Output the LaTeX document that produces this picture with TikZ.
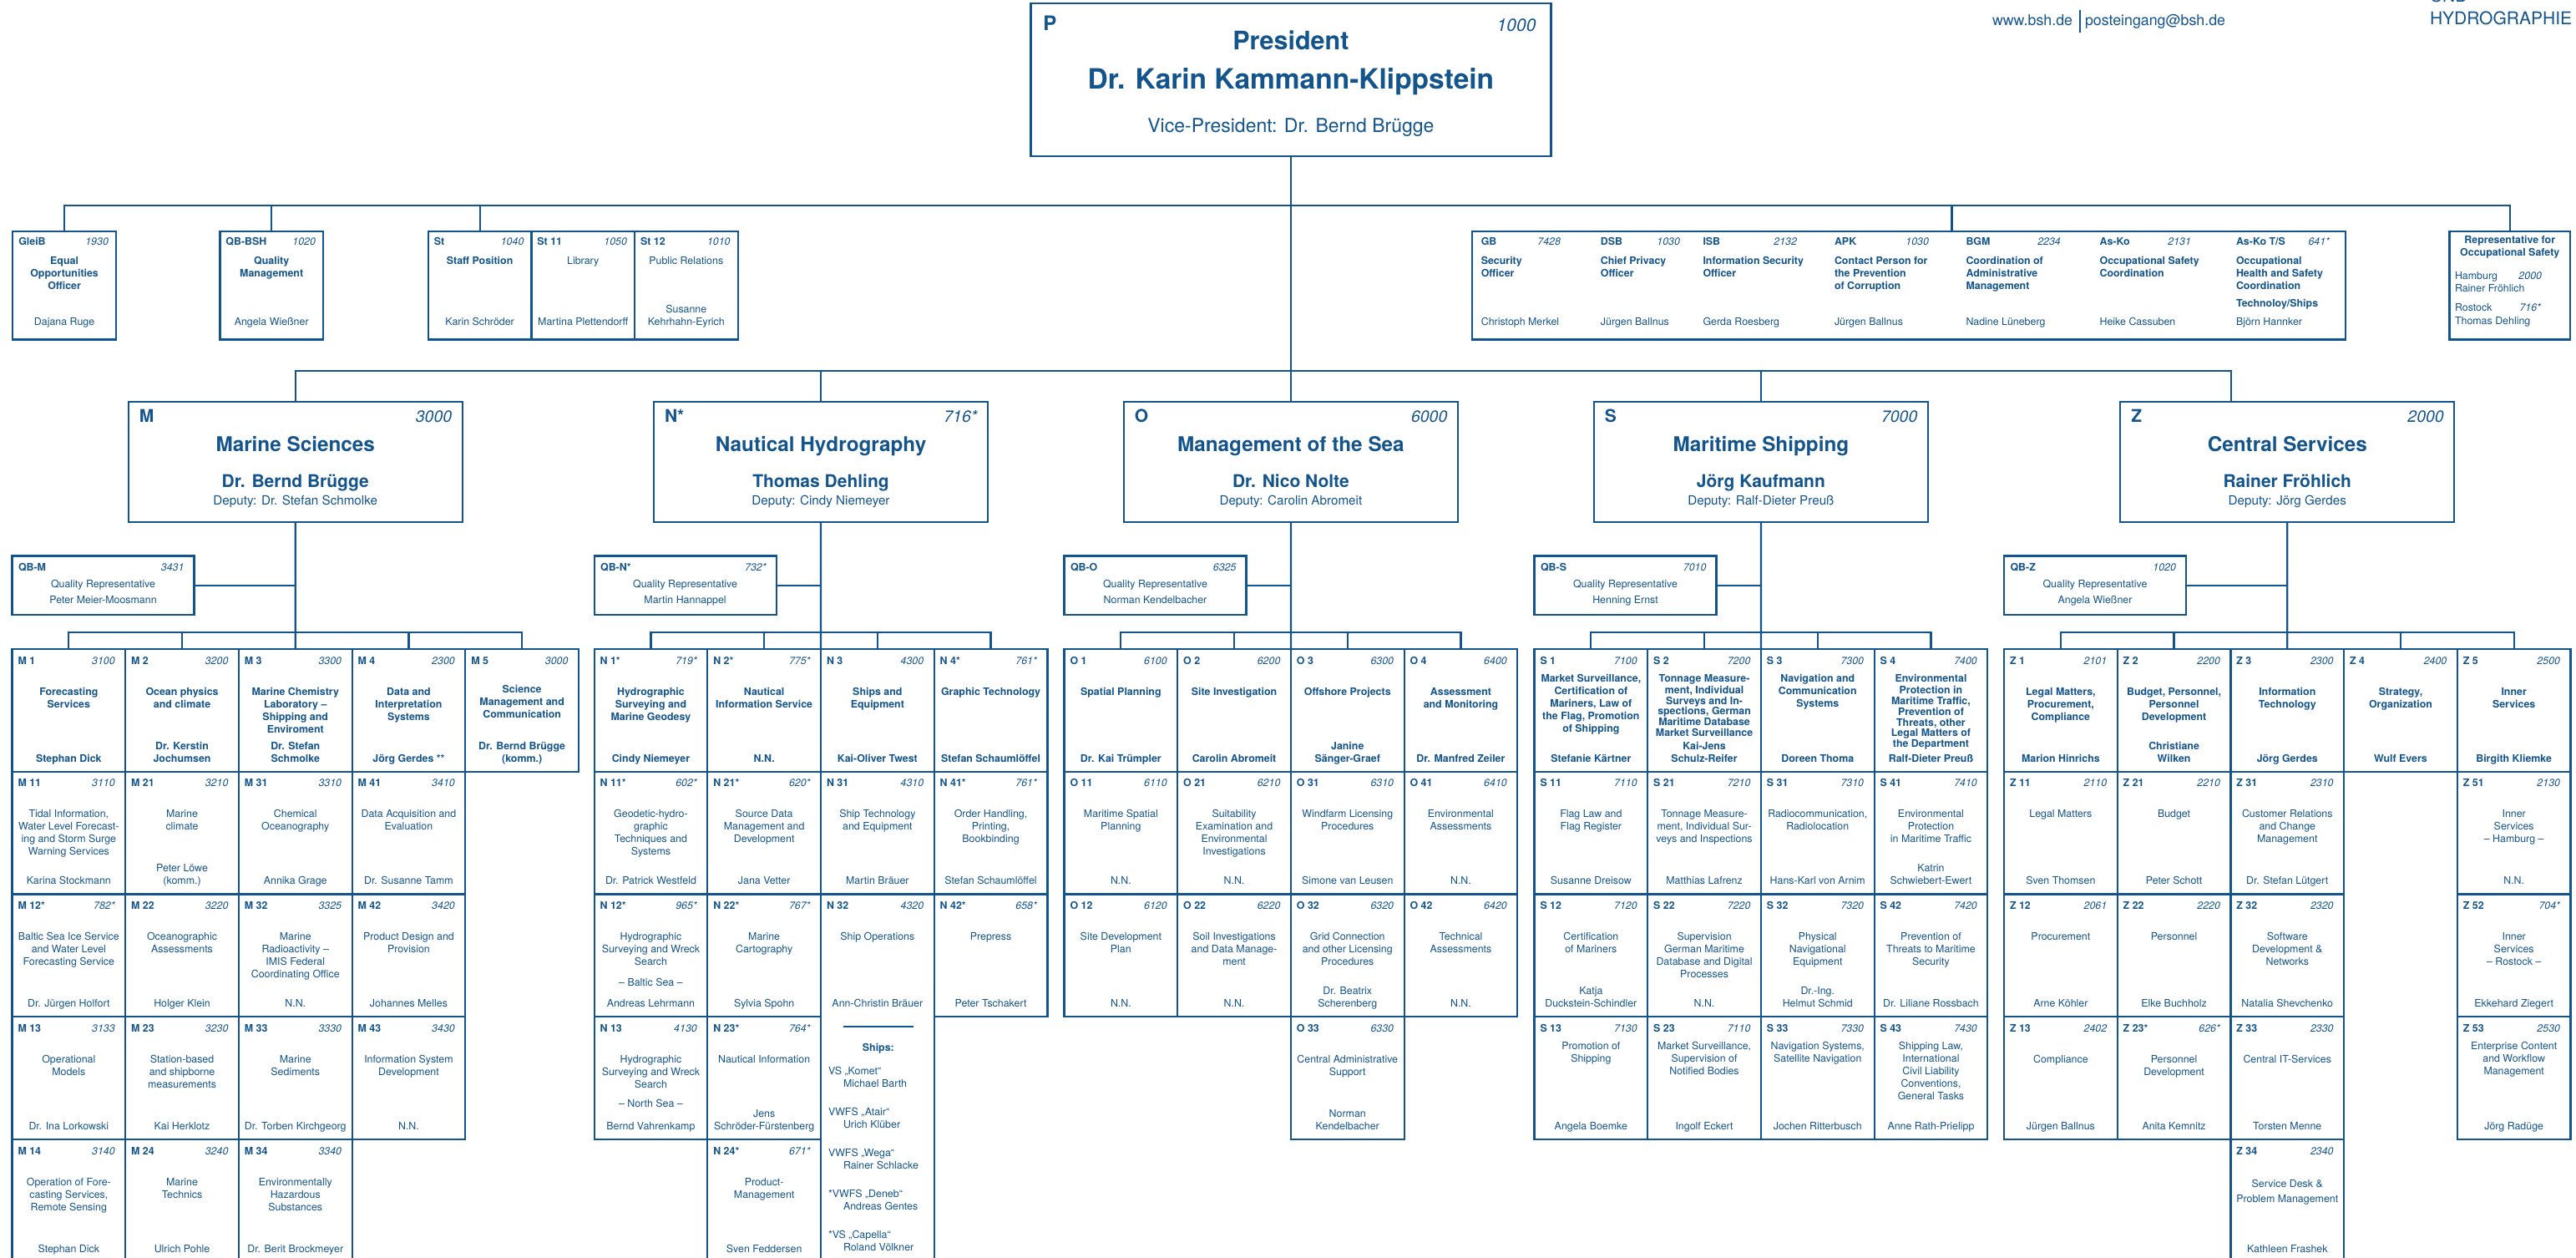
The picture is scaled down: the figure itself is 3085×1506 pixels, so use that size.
\documentclass[tikz,border=0pt]{standalone}
\usepackage{fontspec}
\setmainfont{TeX Gyre Heros}
\definecolor{bsh}{RGB}{20,84,140}
\newcommand\ufont{\fontsize{12.4}{15}\selectfont}
\def\uH{146.75}
\tikzset{
 bx/.style={draw=bsh,line width=2.2pt,inner sep=0pt,outer sep=0pt},
 tx/.style={text=bsh,inner sep=0pt,outer sep=0pt},
 ln/.style={draw=bsh,line width=2.2pt},
}
\newcommand\mkunit[9]{%
  \node[bx,anchor=north west,minimum width=135.7pt,minimum height=\uH pt] (#1) at (#2,#3) {};
  \path (#1.north west) ++(7,18) node[tx,anchor=base west,font=\ufont\bfseries] (#1-c) {#4};
  \path (#1.north east) ++(-12.5,18) node[tx,anchor=base east,font=\ufont\itshape] (#1-n) {#5};
  \path (#1.north) ++(0,44.5) node[tx,anchor=north,align=center,font=\ufont#6,#9] (#1-t) {\strut#7};
  \path (#1.north) ++(0,139.5) node[tx,anchor=south,align=center,font=\ufont#6] (#1-p) {#8\strut};
}
\newcommand\mkdept[7]{%
  \node[bx,anchor=north,minimum width=400pt,minimum height=144pt] (#1) at (#2,481) {};
  \path (#1.north west) ++(13,24) node[tx,anchor=base west,font=\fontsize{21}{25}\selectfont\bfseries] (#1-l) {#3};
  \path (#1.north east) ++(-12.5,24) node[tx,anchor=base east,font=\fontsize{19.5}{23}\selectfont\itshape] (#1-n) {#4};
  \path (#1.north) ++(0,59) node[tx,anchor=base,font=\fontsize{24.3}{29}\selectfont\bfseries] (#1-t) {#5};
  \path (#1.north) ++(0,102) node[tx,anchor=base,font=\fontsize{21}{25}\selectfont\bfseries] (#1-h) {#6};
  \path (#1.north) ++(0,123.5) node[tx,anchor=base,font=\fontsize{15.2}{18}\selectfont] (#1-d) {#7};
}
\newcommand\mkstaff[7]{%
  \node[bx,anchor=north west,minimum width=123.6pt,minimum height=129.5pt] (#1) at (#2,277) {};
  \path (#1.north west) ++(7,16) node[tx,anchor=base west,font=\ufont\bfseries] (#1-c) {#3};
  \path (#1.north east) ++(-9,16) node[tx,anchor=base east,font=\ufont\itshape] (#1-n) {#4};
  \path (#1.north) ++(0,28.5) node[tx,anchor=north,align=center,font=\ufont#5] (#1-t) {\strut#6};
  \path (#1.north) ++(0,116.5) node[tx,anchor=south,align=center,font=\ufont] (#1-p) {#7\strut};
}
\newcommand\mkitem[7]{%
  \node[tx,anchor=base west,font=\ufont\bfseries] (#1-c) at (#2,293) {#4};
  \node[tx,anchor=base east,font=\ufont\itshape] (#1-n) at (#3,293) {#5};
  \node[tx,anchor=north west,align=left,font=\ufont\bfseries] (#1-t) at (#2,305.5) {\strut#6};
  \node[tx,anchor=base west,font=\ufont] (#1-p) at (#2,389) {#7};
}
\newcommand\mkqb[5]{%
  \node[bx,anchor=north west,minimum width=218pt,minimum height=70.5pt] (#1) at (#2,665.5) {};
  \path (#1.north west) ++(7.5,18) node[tx,anchor=base west,font=\ufont\bfseries] (#1-c) {#3};
  \path (#1.north east) ++(-12,18) node[tx,anchor=base east,font=\ufont\itshape] (#1-n) {#4};
  \path (#1.north) ++(0,38.3) node[tx,anchor=base,font=\ufont] (#1-t) {Quality Representative};
  \path (#1.north) ++(0,56.5) node[tx,anchor=base,font=\ufont] (#1-p) {#5};
}
\begin{document}
\begin{tikzpicture}[x=1pt,y=-1pt]
\useasboundingbox (0,0) rectangle (3085,1506);
\fill[white] (0,0) rectangle (3085,1506);

% ---------- header ----------
\node[tx,anchor=base west,font=\fontsize{17.8}{20}\selectfont] (www) at (2386,30.5) {www.bsh.de};
\node[tx,anchor=base west,font=\fontsize{17.8}{20}\selectfont] (mail) at (2497,30.5) {posteingang@bsh.de};
\coordinate (sepT) at (2491,12); \coordinate (sepB) at (2491,39);
\draw[bsh,line width=1.2pt] (sepT) -- (sepB);
\node[tx,anchor=base west,font=\fontsize{21}{24}\selectfont] (und) at (2910,3) {UND};
\node[tx,anchor=base west,font=\fontsize{21}{24}\selectfont] (hyd) at (2910,29.5) {HYDROGRAPHIE};

% ---------- president ----------
\node[bx,anchor=north west,minimum width=623pt,minimum height=183pt] (pres) at (1234.4,4) {};
\path (pres.north west) ++(15,33) node[tx,anchor=base west,font=\fontsize{24}{28}\selectfont\bfseries] (pres-l) {P};
\path (pres.north east) ++(-18,33.5) node[tx,anchor=base east,font=\fontsize{21}{25}\selectfont\itshape] (pres-n) {1000};
\path (pres.north) ++(0,55.5) node[tx,anchor=base,font=\fontsize{30.5}{36}\selectfont\bfseries] (pres-t) {President};
\path (pres.north) ++(0,103) node[tx,anchor=base,font=\fontsize{33.5}{38}\selectfont\bfseries] (pres-h) {Dr. Karin Kammann-Klippstein};
\path (pres.north) ++(0,155) node[tx,anchor=base,font=\fontsize{23}{27}\selectfont] (pres-d) {Vice-President: Dr. Bernd Brügge};

% ---------- staff ----------
\mkstaff{gleib}{15.3}{GleiB}{1930}{\bfseries}{Equal\\Opportunities\\Officer}{Dajana Ruge}
\mkstaff{qbbsh}{263.4}{QB-BSH}{1020}{\bfseries}{Quality\\Management}{Angela Wießner}
\mkstaff{st}{512.8}{St}{1040}{\bfseries}{Staff Position}{Karin Schröder}
\mkstaff{st11}{636.4}{St 11}{1050}{\mdseries}{Library}{Martina Plettendorff}
\mkstaff{st12}{760}{St 12}{1010}{\mdseries}{Public Relations}{Susanne\\Kehrhahn-Eyrich}

\node[bx,anchor=north west,minimum width=1046.2pt,minimum height=129.5pt] (grp) at (1762.8,277) {};
\mkitem{gb}{1773.8}{1869}{GB}{7428}{Security\\Officer}{Christoph Merkel}
\mkitem{dsb}{1916.9}{2012}{DSB}{1030}{Chief Privacy\\Officer}{Jürgen Ballnus}
\mkitem{isb}{2039.5}{2152}{ISB}{2132}{Information Security\\Officer}{Gerda Roesberg}
\mkitem{apk}{2197}{2310}{APK}{1030}{Contact Person for\\the Prevention\\of Corruption}{Jürgen Ballnus}
\mkitem{bgm}{2354.5}{2467.8}{BGM}{2234}{Coordination of\\Administrative\\Management}{Nadine Lüneberg}
\mkitem{asko}{2514.6}{2624}{As-Ko}{2131}{Occupational Safety\\Coordination}{Heike Cassuben}
\mkitem{askots}{2678}{2790}{As-Ko T/S}{641*}{Occupational\\Health and Safety\\Coordination\\[6pt]Technoloy/Ships}{Björn Hannker}

\node[bx,anchor=north west,minimum width=144.5pt,minimum height=129.5pt] (rep) at (2933.5,277) {};
\node[tx,anchor=north,align=center,font=\ufont\bfseries] (rep-t) at (3005.75,281) {\strut Representative for\\Occupational Safety};
\node[tx,anchor=base west,font=\ufont] (rep-h1) at (2940,334.5) {Hamburg};
\node[tx,anchor=base east,font=\ufont\itshape] (rep-n1) at (3044,334.5) {2000};
\node[tx,anchor=base west,font=\ufont] (rep-p1) at (2940,349.5) {Rainer Fröhlich};
\node[tx,anchor=base west,font=\ufont] (rep-h2) at (2940,372.5) {Rostock};
\node[tx,anchor=base east,font=\ufont\itshape] (rep-n2) at (3043,372.5) {716*};
\node[tx,anchor=base west,font=\ufont] (rep-p2) at (2940,388) {Thomas Dehling};

% ---------- departments ----------
\mkdept{dM}{353.75}{M}{3000}{Marine Sciences}{Dr. Bernd Brügge}{Deputy: Dr. Stefan Schmolke}
\mkdept{dN}{983.0}{N*}{716*}{Nautical Hydrography}{Thomas Dehling}{Deputy: Cindy Niemeyer}
\mkdept{dO}{1545.9}{O}{6000}{Management of the Sea}{Dr. Nico Nolte}{Deputy: Carolin Abromeit}
\mkdept{dS}{2108.9}{S}{7000}{Maritime Shipping}{Jörg Kaufmann}{Deputy: Ralf-Dieter Preuß}
\mkdept{dZ}{2739.25}{Z}{2000}{Central Services}{Rainer Fröhlich}{Deputy: Jörg Gerdes}

\mkqb{qbM}{14.5}{QB-M}{3431}{Peter Meier-Moosmann}
\mkqb{qbN}{711.6}{QB-N*}{732*}{Martin Hannappel}
\mkqb{qbO}{1274.5}{QB-O}{6325}{Norman Kendelbacher}
\mkqb{qbS}{1837.5}{QB-S}{7010}{Henning Ernst}
\mkqb{qbZ}{2400}{QB-Z}{1020}{Angela Wießner}

% ---------- M units ----------
\mkunit{M1}{14.5}{777}{M 1}{3100}{\bfseries}{Forecasting\\Services}{Stephan Dick}{}
\mkunit{M2}{150.2}{777}{M 2}{3200}{\bfseries}{Ocean physics\\and climate}{Dr. Kerstin\\Jochumsen}{}
\mkunit{M3}{285.9}{777}{M 3}{3300}{\bfseries}{Marine Chemistry\\Laboratory –\\Shipping and\\Enviroment}{Dr. Stefan\\Schmolke}{}
\mkunit{M4}{421.6}{777}{M 4}{2300}{\bfseries}{Data and\\Interpretation\\Systems}{Jörg Gerdes **}{}
\mkunit{M5}{557.3}{777}{M 5}{3000}{\bfseries}{Science\\Management and\\Communication}{Dr. Bernd Brügge\\(komm.)}{yshift=3pt}
\mkunit{M11}{14.5}{923.75}{M 11}{3110}{\mdseries}{Tidal Information,\\Water Level Forecast-\\ing and Storm Surge\\Warning Services}{Karina Stockmann}{}
\mkunit{M21}{150.2}{923.75}{M 21}{3210}{\mdseries}{Marine\\climate}{Peter Löwe\\(komm.)}{}
\mkunit{M31}{285.9}{923.75}{M 31}{3310}{\mdseries}{Chemical\\Oceanography}{Annika Grage}{}
\mkunit{M41}{421.6}{923.75}{M 41}{3410}{\mdseries}{Data Acquisition and\\Evaluation}{Dr. Susanne Tamm}{}
\mkunit{M12}{14.5}{1070.5}{M 12*}{782*}{\mdseries}{Baltic Sea Ice Service\\and Water Level\\Forecasting Service}{Dr. Jürgen Holfort}{}
\mkunit{M22}{150.2}{1070.5}{M 22}{3220}{\mdseries}{Oceanographic\\Assessments}{Holger Klein}{}
\mkunit{M32}{285.9}{1070.5}{M 32}{3325}{\mdseries}{Marine\\Radioactivity –\\IMIS Federal\\Coordinating Office}{N.N.}{}
\mkunit{M42}{421.6}{1070.5}{M 42}{3420}{\mdseries}{Product Design and\\Provision}{Johannes Melles}{}
\mkunit{M13}{14.5}{1217.25}{M 13}{3133}{\mdseries}{Operational\\Models}{Dr. Ina Lorkowski}{}
\mkunit{M23}{150.2}{1217.25}{M 23}{3230}{\mdseries}{Station-based\\and shipborne\\measurements}{Kai Herklotz}{}
\mkunit{M33}{285.9}{1217.25}{M 33}{3330}{\mdseries}{Marine\\Sediments}{Dr. Torben Kirchgeorg}{}
\mkunit{M43}{421.6}{1217.25}{M 43}{3430}{\mdseries}{Information System\\Development}{N.N.}{}
\mkunit{M14}{14.5}{1364}{M 14}{3140}{\mdseries}{Operation of Fore-\\casting Services,\\Remote Sensing}{Stephan Dick}{}
\mkunit{M24}{150.2}{1364}{M 24}{3240}{\mdseries}{Marine\\Technics}{Ulrich Pohle}{}
\mkunit{M34}{285.9}{1364}{M 34}{3340}{\mdseries}{Environmentally\\Hazardous\\Substances}{Dr. Berit Brockmeyer}{}

% ---------- N units ----------
\mkunit{N1}{711.6}{777}{N 1*}{719*}{\bfseries}{Hydrographic\\Surveying and\\Marine Geodesy}{Cindy Niemeyer}{}
\mkunit{N2}{847.3}{777}{N 2*}{775*}{\bfseries}{Nautical\\Information Service}{N.N.}{}
\mkunit{N3}{983.0}{777}{N 3}{4300}{\bfseries}{Ships and\\Equipment}{Kai-Oliver Twest}{}
\mkunit{N4}{1118.7}{777}{N 4*}{761*}{\bfseries}{Graphic Technology}{Stefan Schaumlöffel}{}
\mkunit{N11}{711.6}{923.75}{N 11*}{602*}{\mdseries}{Geodetic-hydro-\\graphic\\Techniques and\\Systems}{Dr. Patrick Westfeld}{}
\mkunit{N21}{847.3}{923.75}{N 21*}{620*}{\mdseries}{Source Data\\Management and\\Development}{Jana Vetter}{}
\mkunit{N31}{983.0}{923.75}{N 31}{4310}{\mdseries}{Ship Technology\\and Equipment}{Martin Bräuer}{}
\mkunit{N41}{1118.7}{923.75}{N 41*}{761*}{\mdseries}{Order Handling,\\Printing,\\Bookbinding}{Stefan Schaumlöffel}{}
\mkunit{N12}{711.6}{1070.5}{N 12*}{965*}{\mdseries}{Hydrographic\\Surveying and Wreck\\Search\\[10pt]– Baltic Sea –}{Andreas Lehrmann}{}
\mkunit{N22}{847.3}{1070.5}{N 22*}{767*}{\mdseries}{Marine\\Cartography}{Sylvia Spohn}{}
\def\uH{441}
\mkunit{N32}{983.0}{1070.5}{N 32}{4320}{\mdseries}{Ship Operations}{Ann-Christin Bräuer}{}
\def\uH{146.75}
\mkunit{N42}{1118.7}{1070.5}{N 42*}{658*}{\mdseries}{Prepress}{Peter Tschakert}{}
\mkunit{N13}{711.6}{1217.25}{N 13}{4130}{\mdseries}{Hydrographic\\Surveying and Wreck\\Search\\[8pt]– North Sea –}{Bernd Vahrenkamp}{}
\mkunit{N23}{847.3}{1217.25}{N 23*}{764*}{\mdseries}{Nautical Information}{Jens\\Schröder-Fürstenberg}{}
\mkunit{N24}{847.3}{1364}{N 24*}{671*}{\mdseries}{Product-\\Management}{Sven Feddersen}{}

\coordinate (shipL) at (1010.4,1229); \coordinate (shipR) at (1093.7,1229);
\draw[bsh,line width=1.2pt] (shipL) -- (shipR);
\node[tx,anchor=base,font=\ufont\bfseries] (ships) at (1051.85,1258) {Ships:};
\node[tx,anchor=north west,align=left,font=\fontsize{12.4}{15.5}\selectfont] (shiplist) at (992,1275.2)
 {\strut VS „Komet“\\\hspace*{18pt}Michael Barth\\[18pt]VWFS „Atair“\\\hspace*{18pt}Urich Klüber\\[18pt]VWFS „Wega“\\\hspace*{18pt}Rainer Schlacke\\[18pt]*VWFS „Deneb“\\\hspace*{18pt}Andreas Gentes\\[18pt]*VS „Capella“\\\hspace*{18pt}Roland Völkner};

% ---------- O units ----------
\mkunit{O1}{1274.5}{777}{O 1}{6100}{\bfseries}{Spatial Planning}{Dr. Kai Trümpler}{}
\mkunit{O2}{1410.2}{777}{O 2}{6200}{\bfseries}{Site Investigation}{Carolin Abromeit}{}
\mkunit{O3}{1545.9}{777}{O 3}{6300}{\bfseries}{Offshore Projects}{Janine\\Sänger-Graef}{}
\mkunit{O4}{1681.6}{777}{O 4}{6400}{\bfseries}{Assessment\\and Monitoring}{Dr. Manfred Zeiler}{}
\mkunit{O11}{1274.5}{923.75}{O 11}{6110}{\mdseries}{Maritime Spatial\\Planning}{N.N.}{}
\mkunit{O21}{1410.2}{923.75}{O 21}{6210}{\mdseries}{Suitability\\Examination and\\Environmental\\Investigations}{N.N.}{}
\mkunit{O31}{1545.9}{923.75}{O 31}{6310}{\mdseries}{Windfarm Licensing\\Procedures}{Simone van Leusen}{}
\mkunit{O41}{1681.6}{923.75}{O 41}{6410}{\mdseries}{Environmental\\Assessments}{N.N.}{}
\mkunit{O12}{1274.5}{1070.5}{O 12}{6120}{\mdseries}{Site Development\\Plan}{N.N.}{}
\mkunit{O22}{1410.2}{1070.5}{O 22}{6220}{\mdseries}{Soil Investigations\\and Data Manage-\\ment}{N.N.}{}
\mkunit{O32}{1545.9}{1070.5}{O 32}{6320}{\mdseries}{Grid Connection\\and other Licensing\\Procedures}{Dr. Beatrix\\Scherenberg}{}
\mkunit{O42}{1681.6}{1070.5}{O 42}{6420}{\mdseries}{Technical\\Assessments}{N.N.}{}
\mkunit{O33}{1545.9}{1217.25}{O 33}{6330}{\mdseries}{Central Administrative\\Support}{Norman\\Kendelbacher}{}

% ---------- S units ----------
\mkunit{S1}{1837.5}{777}{S 1}{7100}{\bfseries}{Market Surveillance,\\Certification of\\Mariners, Law of\\the Flag, Promotion\\of Shipping}{Stefanie Kärtner}{yshift=16pt}
\mkunit{S2}{1973.2}{777}{S 2}{7200}{\bfseries}{Tonnage Measure-\\ment, Individual\\Surveys and In-\\spections, German\\Maritime Database\\Market Surveillance}{Kai-Jens\\Schulz-Reifer}{yshift=14.5pt,font=\bfseries\fontsize{12.4}{12.9}\selectfont}
\mkunit{S3}{2108.9}{777}{S 3}{7300}{\bfseries}{Navigation and\\Communication\\Systems}{Doreen Thoma}{yshift=16pt}
\mkunit{S4}{2244.6}{777}{S 4}{7400}{\bfseries}{Environmental\\Protection in\\Maritime Traffic,\\Prevention of\\Threats, other\\Legal Matters of\\the Department}{Ralf-Dieter Preuß}{yshift=14.5pt,font=\bfseries\fontsize{12.4}{12.9}\selectfont}
\mkunit{S11}{1837.5}{923.75}{S 11}{7110}{\mdseries}{Flag Law and\\Flag Register}{Susanne Dreisow}{}
\mkunit{S21}{1973.2}{923.75}{S 21}{7210}{\mdseries}{Tonnage Measure-\\ment, Individual Sur-\\veys and Inspections}{Matthias Lafrenz}{}
\mkunit{S31}{2108.9}{923.75}{S 31}{7310}{\mdseries}{Radiocommunication,\\Radiolocation}{Hans-Karl von Arnim}{}
\mkunit{S41}{2244.6}{923.75}{S 41}{7410}{\mdseries}{Environmental\\Protection\\in Maritime Traffic}{Katrin\\Schwiebert-Ewert}{}
\mkunit{S12}{1837.5}{1070.5}{S 12}{7120}{\mdseries}{Certification\\of Mariners}{Katja\\Duckstein-Schindler}{}
\mkunit{S22}{1973.2}{1070.5}{S 22}{7220}{\mdseries}{Supervision\\German Maritime\\Database and Digital\\Processes}{N.N.}{}
\mkunit{S32}{2108.9}{1070.5}{S 32}{7320}{\mdseries}{Physical\\Navigational\\Equipment}{Dr.-Ing.\\Helmut Schmid}{}
\mkunit{S42}{2244.6}{1070.5}{S 42}{7420}{\mdseries}{Prevention of\\Threats to Maritime\\Security}{Dr. Liliane Rossbach}{}
\mkunit{S13}{1837.5}{1217.25}{S 13}{7130}{\mdseries}{Promotion of\\Shipping}{Angela Boemke}{yshift=16pt}
\mkunit{S23}{1973.2}{1217.25}{S 23}{7110}{\mdseries}{Market Surveillance,\\Supervision of\\Notified Bodies}{Ingolf Eckert}{yshift=16pt}
\mkunit{S33}{2108.9}{1217.25}{S 33}{7330}{\mdseries}{Navigation Systems,\\Satellite Navigation}{Jochen Ritterbusch}{yshift=16pt}
\mkunit{S43}{2244.6}{1217.25}{S 43}{7430}{\mdseries}{Shipping Law,\\International\\Civil Liability\\Conventions,\\General Tasks}{Anne Rath-Prielipp}{yshift=16pt}

% ---------- Z units ----------
\mkunit{Z1}{2400}{777}{Z 1}{2101}{\bfseries}{Legal Matters,\\Procurement,\\Compliance}{Marion Hinrichs}{}
\mkunit{Z2}{2535.7}{777}{Z 2}{2200}{\bfseries}{Budget, Personnel,\\Personnel\\Development}{Christiane\\Wilken}{}
\mkunit{Z3}{2671.4}{777}{Z 3}{2300}{\bfseries}{Information\\Technology}{Jörg Gerdes}{}
\mkunit{Z4}{2807.1}{777}{Z 4}{2400}{\bfseries}{Strategy,\\Organization}{Wulf Evers}{}
\mkunit{Z5}{2942.8}{777}{Z 5}{2500}{\bfseries}{Inner\\Services}{Birgith Kliemke}{}
\mkunit{Z11}{2400}{923.75}{Z 11}{2110}{\mdseries}{Legal Matters}{Sven Thomsen}{}
\mkunit{Z21}{2535.7}{923.75}{Z 21}{2210}{\mdseries}{Budget}{Peter Schott}{}
\mkunit{Z31}{2671.4}{923.75}{Z 31}{2310}{\mdseries}{Customer Relations\\and Change\\Management}{Dr. Stefan Lütgert}{}
\mkunit{Z51}{2942.8}{923.75}{Z 51}{2130}{\mdseries}{Inner\\Services\\– Hamburg –}{N.N.}{}
\mkunit{Z12}{2400}{1070.5}{Z 12}{2061}{\mdseries}{Procurement}{Arne Köhler}{}
\mkunit{Z22}{2535.7}{1070.5}{Z 22}{2220}{\mdseries}{Personnel}{Elke Buchholz}{}
\mkunit{Z32}{2671.4}{1070.5}{Z 32}{2320}{\mdseries}{Software\\Development \&\\Networks}{Natalia Shevchenko}{}
\mkunit{Z52}{2942.8}{1070.5}{Z 52}{704*}{\mdseries}{Inner\\Services\\– Rostock –}{Ekkehard Ziegert}{}
\mkunit{Z13}{2400}{1217.25}{Z 13}{2402}{\mdseries}{Compliance}{Jürgen Ballnus}{}
\mkunit{Z23}{2535.7}{1217.25}{Z 23*}{626*}{\mdseries}{Personnel\\Development}{Anita Kemnitz}{}
\mkunit{Z33}{2671.4}{1217.25}{Z 33}{2330}{\mdseries}{Central IT-Services}{Torsten Menne}{}
\mkunit{Z53}{2942.8}{1217.25}{Z 53}{2530}{\mdseries}{Enterprise Content\\and Workflow\\Management}{Jörg Radüge}{yshift=16pt}
\mkunit{Z34}{2671.4}{1364}{Z 34}{2340}{\mdseries}{Service Desk \&\\[3pt]Problem Management}{Kathleen Frashek}{yshift=-2pt}

% ---------- connectors ----------
\coordinate (sb) at (1545.9,246);
\coordinate (db) at (1545.9,444);
\coordinate (grpin) at (2337.5,277);
\coordinate (zin) at (2672,481);
\draw[ln] (gleib.north) -- (gleib.north |- sb) -- (rep.north |- sb) -- (rep.north);
\draw[ln] (qbbsh.north) -- (qbbsh.north |- sb);
\draw[ln] (st.north) -- (st.north |- sb);
\draw[ln] (grpin) -- (grpin |- sb);
\draw[ln] (pres.south) -- (dO.north);
\draw[ln] (dM.north) -- (dM.north |- db) -- (zin |- db) -- (zin);
\draw[ln] (dN.north) -- (dN.north |- db);
\draw[ln] (dS.north) -- (dS.north |- db);

\draw[ln] (dM.south) -- (M3.north);
\draw[ln] (qbM.east) -- (qbM.east -| dM.south);
\draw[ln] (M1.north) -- ++(0,-20.4) -| (M5.north);
\draw[ln] (M2.north) -- ++(0,-20.4);
\draw[ln] (M4.north) -- ++(0,-20.4);

\draw[ln] (dN.south) -- (N2.north east);
\draw[ln] (qbN.east) -- (qbN.east -| dN.south);
\draw[ln] (N1.north) -- ++(0,-20.4) -| (N4.north);
\draw[ln] (N2.north) -- ++(0,-20.4);
\draw[ln] (N3.north) -- ++(0,-20.4);

\draw[ln] (dO.south) -- (O2.north east);
\draw[ln] (qbO.east) -- (qbO.east -| dO.south);
\draw[ln] (O1.north) -- ++(0,-20.4) -| (O4.north);
\draw[ln] (O2.north) -- ++(0,-20.4);
\draw[ln] (O3.north) -- ++(0,-20.4);

\draw[ln] (dS.south) -- (S2.north east);
\draw[ln] (qbS.east) -- (qbS.east -| dS.south);
\draw[ln] (S1.north) -- ++(0,-20.4) -| (S4.north);
\draw[ln] (S2.north) -- ++(0,-20.4);
\draw[ln] (S3.north) -- ++(0,-20.4);

\draw[ln] (dZ.south) -- (Z3.north);
\draw[ln] (qbZ.east) -- (qbZ.east -| dZ.south);
\draw[ln] (Z1.north) -- ++(0,-20.4) -| (Z5.north);
\draw[ln] (Z2.north) -- ++(0,-20.4);
\draw[ln] (Z4.north) -- ++(0,-20.4);
\end{tikzpicture}
\end{document}
